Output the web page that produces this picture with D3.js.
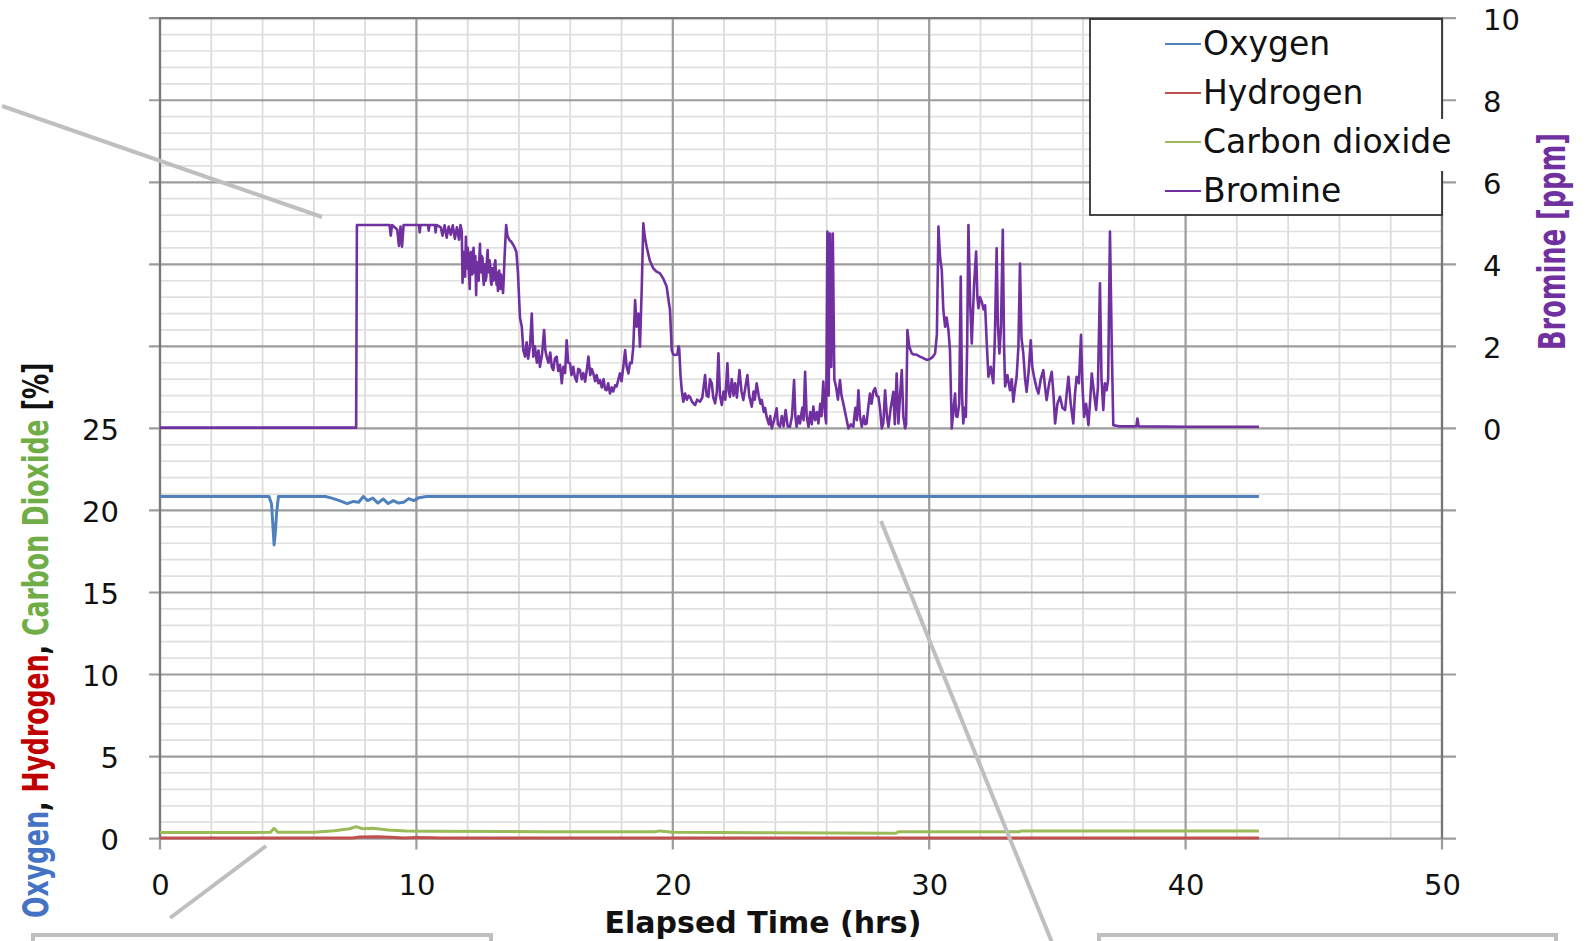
<!DOCTYPE html>
<html>
<head>
<meta charset="utf-8">
<script src="https://cdn.jsdelivr.net/npm/d3@7"></script>
<style>
  body { margin: 0; background: #fff; }
  text { font-family: "DejaVu Sans", sans-serif; white-space: pre; }
</style>
</head>
<body>
<div id="container"></div>
<script>
/* CONSTANTS AND GLOBALS */
const width = 1588, height = 941;
const plot = { left: 160, right: 1442, top: 18.2, bottom: 838.6 };

// tick labels
const hrsTicks = [0, 10, 20, 30, 40, 50];
const pctTicks = [0, 5, 10, 15, 20, 25];
const ppmTicks = [0, 2, 4, 6, 8, 10];

// legend / series
const seriesNames = ["Oxygen", "Hydrogen", "Carbon dioxide", "Bromine"];
const seriesColors = ["#4f81bd", "#c0504d", "#9bbb59", "#7030a0"];

// left axis title pieces
const leftTitleParts = [
  { text: "Oxygen", color: "#4472c4" },
  { text: ", ", color: "#111" },
  { text: "Hydrogen", color: "#c00000" },
  { text: ", ", color: "#111" },
  { text: "Carbon Dioxide", color: "#70ad47" },
  { text: " [%]", color: "#111" }
];

// [hours, %]
const oxygen = [
  [0, 20.85], [4.25, 20.85], [4.35, 20.4], [4.45, 17.9], [4.5, 18.7], [4.55, 19.9], [4.62, 20.85],
  [6.45, 20.85], [6.7, 20.75], [7.0, 20.6], [7.3, 20.42], [7.55, 20.55], [7.75, 20.5], [7.93, 20.85],
  [8.1, 20.6], [8.3, 20.75], [8.5, 20.45], [8.7, 20.7], [8.9, 20.42], [9.1, 20.6], [9.3, 20.45],
  [9.5, 20.5], [9.7, 20.72], [9.9, 20.6], [10.1, 20.78], [10.4, 20.85], [42.86, 20.85]
];

const hydrogen = [
  [0, 0.03], [7.5, 0.03], [7.8, 0.1], [8.5, 0.12], [9.0, 0.08], [9.5, 0.04], [10.0, 0.07],
  [10.6, 0.05], [11, 0.03], [42.86, 0.03]
];

const co2 = [
  [0, 0.37], [4.3, 0.38], [4.45, 0.63], [4.6, 0.38], [6.0, 0.38], [6.8, 0.48], [7.4, 0.6],
  [7.65, 0.73], [7.9, 0.6], [8.3, 0.63], [8.9, 0.52], [9.6, 0.47], [10.5, 0.45], [15, 0.42],
  [19.3, 0.42], [19.5, 0.47], [20.0, 0.38], [24, 0.35], [28.7, 0.33], [28.8, 0.41], [33.5, 0.42],
  [33.6, 0.47], [42.86, 0.47]
];

// [hours, ppm]
const bromine = [
  [0, 0.02], [7.65, 0.02], [7.68, 4.96], [8.95, 4.96], [9.0, 4.7], [9.05, 4.96], [9.25, 4.85], [9.32, 4.45],
  [9.38, 4.92], [9.44, 4.43], [9.5, 4.96], [10.1, 4.96], [10.13, 4.78], [10.16, 4.96], [10.45, 4.96],
  [10.48, 4.82], [10.51, 4.96], [10.72, 4.96], [10.75, 4.78], [10.78, 4.96], [10.95, 4.9], [11.02, 4.7],
  [11.1, 4.95], [11.18, 4.65], [11.26, 4.92], [11.34, 4.72], [11.42, 4.95], [11.5, 4.62], [11.58, 4.9],
  [11.66, 4.6], [11.72, 4.96], [11.77, 4.8],
  [11.8, 3.55], [11.82, 4.1], [11.84, 4.3], [11.86, 3.8], [11.88, 4.05], [11.9, 3.7], [11.93, 4.67],
  [11.96, 4.0], [11.98, 3.9], [12.0, 4.4], [12.03, 4.25], [12.05, 3.8], [12.08, 3.4], [12.1, 4.0],
  [12.13, 4.3], [12.15, 3.9], [12.18, 3.75], [12.2, 4.2], [12.23, 4.4], [12.25, 3.8], [12.28, 3.9],
  [12.3, 4.2], [12.33, 3.25], [12.35, 3.9], [12.38, 4.05], [12.4, 3.7], [12.43, 3.6], [12.45, 4.1],
  [12.48, 4.5], [12.5, 3.9], [12.53, 3.8], [12.55, 4.2], [12.58, 4.15], [12.6, 3.7], [12.63, 3.5],
  [12.65, 4.0], [12.68, 4.0], [12.7, 3.6], [12.73, 3.7], [12.75, 4.1], [12.78, 4.35], [12.8, 3.9],
  [12.83, 3.8], [12.85, 4.1], [12.88, 3.95], [12.9, 3.6], [12.93, 3.5], [12.95, 3.9], [12.98, 3.9],
  [13.0, 3.6], [13.03, 3.65], [13.05, 4.0], [13.08, 4.1], [13.1, 3.7], [13.13, 3.5], [13.15, 3.8],
  [13.18, 3.35], [13.2, 3.7], [13.23, 3.85], [13.25, 3.5], [13.28, 3.4], [13.3, 3.75], [13.33, 3.6],
  [13.36, 3.45], [13.38, 3.3], [13.41, 3.7], [13.44, 4.2], [13.5, 4.96],
  [13.55, 4.7], [13.62, 4.6], [13.7, 4.55], [13.8, 4.45], [13.9, 4.3], [13.96, 3.8], [14.04, 2.7],
  [14.11, 2.48], [14.17, 1.91], [14.24, 1.75], [14.3, 2.1], [14.36, 1.7], [14.43, 2.0], [14.5, 2.8],
  [14.56, 1.75], [14.62, 2.0], [14.7, 1.6], [14.76, 1.9], [14.82, 1.5], [14.9, 1.8], [14.98, 2.4],
  [15.03, 1.9], [15.08, 1.75], [15.15, 1.6], [15.22, 1.85], [15.28, 1.5], [15.34, 1.42], [15.4, 1.7],
  [15.47, 1.75], [15.53, 1.4], [15.6, 1.55], [15.67, 1.1], [15.73, 1.5], [15.8, 1.35], [15.86, 2.15],
  [15.92, 1.6], [15.99, 1.59], [16.05, 1.3], [16.12, 1.5], [16.18, 1.25], [16.25, 1.14], [16.31, 1.45],
  [16.38, 1.42], [16.45, 1.2], [16.51, 1.35], [16.58, 1.14], [16.64, 1.4], [16.71, 1.75], [16.78, 1.3],
  [16.84, 1.45], [16.9, 1.34], [16.97, 1.15], [17.03, 1.3], [17.1, 1.1], [17.16, 1.18], [17.23, 1.0],
  [17.3, 1.2], [17.36, 0.95], [17.42, 0.93], [17.48, 1.1], [17.55, 0.85], [17.62, 1.0], [17.68, 0.9],
  [17.75, 1.05], [17.81, 1.02], [17.88, 1.2], [17.94, 1.34], [18.0, 1.15], [18.07, 1.5], [18.14, 1.91],
  [18.2, 1.5], [18.27, 1.34], [18.33, 1.6], [18.4, 1.59], [18.46, 2.0], [18.53, 3.13], [18.59, 2.48],
  [18.66, 2.8], [18.72, 1.99], [18.79, 3.45], [18.85, 5.0], [18.9, 4.7], [18.98, 4.43], [19.1, 4.1],
  [19.24, 3.9], [19.37, 3.82], [19.5, 3.78], [19.63, 3.65], [19.76, 3.46], [19.84, 3.1], [19.89, 2.89],
  [19.96, 1.91], [20.02, 1.8], [20.09, 1.79], [20.18, 1.8], [20.22, 2.0], [20.25, 1.95], [20.3, 1.3],
  [20.35, 0.93], [20.41, 0.65], [20.48, 0.85], [20.55, 0.7], [20.62, 0.8], [20.67, 0.77], [20.75, 0.65],
  [20.87, 0.57], [20.95, 0.7], [21.06, 0.65], [21.15, 0.75], [21.2, 1.0], [21.26, 1.3], [21.32, 0.8],
  [21.39, 0.77], [21.45, 1.2], [21.52, 1.1], [21.58, 0.75], [21.65, 0.61], [21.72, 0.9], [21.78, 1.83],
  [21.84, 0.8], [21.91, 0.57], [21.98, 0.9], [22.05, 0.7], [22.13, 1.59], [22.18, 0.9], [22.23, 0.77],
  [22.3, 1.2], [22.37, 0.8], [22.43, 1.1], [22.5, 0.75], [22.6, 1.42], [22.68, 0.9], [22.75, 0.69],
  [22.83, 1.0], [22.91, 1.3], [22.98, 0.8], [23.08, 0.53], [23.15, 0.9], [23.2, 0.7], [23.27, 1.1],
  [23.35, 0.8], [23.42, 0.6], [23.47, 0.69], [23.55, 0.4], [23.6, 0.5], [23.66, 0.28], [23.75, 0.1],
  [23.8, 0.3], [23.86, 0.0], [23.95, 0.2], [24.05, 0.49], [24.1, 0.1], [24.18, 0.04], [24.25, 0.3],
  [24.32, 0.05], [24.4, 0.45], [24.48, 0.05], [24.57, 0.04], [24.65, 0.3], [24.73, 1.18], [24.78, 0.3],
  [24.83, 0.04], [24.9, 0.3], [24.96, 0.12], [25.05, 0.5], [25.1, 0.2], [25.16, 1.38], [25.22, 0.3],
  [25.29, 0.04], [25.36, 0.4], [25.42, 0.1], [25.48, 0.53], [25.55, 0.2], [25.62, 0.4], [25.68, 0.12],
  [25.75, 0.6], [25.8, 0.3], [25.87, 1.14], [25.93, 0.4], [25.98, 0.12], [26.03, 4.8], [26.08, 0.8],
  [26.13, 4.75], [26.18, 1.5], [26.24, 4.75], [26.3, 1.2], [26.37, 1.0], [26.44, 0.7], [26.52, 1.18],
  [26.58, 0.8], [26.65, 0.61], [26.75, 0.3], [26.85, 0.0], [26.95, 0.1], [27.04, 0.04], [27.12, 0.5],
  [27.18, 0.2], [27.24, 0.93], [27.3, 0.3], [27.37, 0.04], [27.45, 0.3], [27.5, 0.1], [27.56, 0.12],
  [27.62, 0.5], [27.69, 0.85], [27.75, 0.6], [27.82, 0.9], [27.89, 0.98], [27.95, 0.8], [28.02, 0.77],
  [28.08, 0.5], [28.15, 0.0], [28.21, 0.12], [28.28, 0.93], [28.35, 0.3], [28.41, 0.04], [28.5, 0.5],
  [28.6, 0.89], [28.66, 0.1], [28.73, 1.34], [28.8, 0.12], [28.86, 0.77], [28.93, 1.42], [28.99, 0.3],
  [29.06, 0.0], [29.1, 0.1], [29.15, 2.4], [29.22, 2.0], [29.32, 1.83], [29.4, 1.8], [29.5, 1.8],
  [29.64, 1.75], [29.75, 1.72], [29.9, 1.67], [30.05, 1.7], [30.15, 1.75], [30.23, 1.83], [30.3, 2.3],
  [30.36, 4.92], [30.42, 4.2], [30.49, 3.86], [30.55, 2.9], [30.62, 2.48], [30.68, 2.7], [30.75, 2.4],
  [30.81, 1.91], [30.85, 0.8], [30.88, 0.0], [30.95, 0.5], [31.01, 0.85], [31.05, 0.3], [31.1, 0.28],
  [31.17, 0.6], [31.23, 3.7], [31.28, 0.8], [31.33, 0.12], [31.38, 0.5], [31.43, 0.28], [31.48, 2.0],
  [31.53, 4.96], [31.6, 3.0], [31.66, 2.07], [31.75, 3.5], [31.83, 4.31], [31.88, 3.2], [31.92, 2.93],
  [31.98, 3.2], [32.05, 3.09], [32.12, 2.9], [32.18, 3.0], [32.25, 2.0], [32.31, 1.26], [32.4, 1.5],
  [32.5, 1.1], [32.56, 2.2], [32.63, 4.39], [32.68, 2.5], [32.74, 1.83], [32.8, 2.5], [32.87, 4.84],
  [32.92, 2.0], [32.96, 1.02], [33.05, 1.3], [33.15, 0.93], [33.22, 1.2], [33.28, 0.65], [33.35, 1.0],
  [33.41, 1.26], [33.48, 2.0], [33.54, 4.02], [33.6, 2.2], [33.67, 1.83], [33.74, 1.2], [33.8, 0.89],
  [33.88, 1.4], [33.96, 2.15], [34.02, 1.5], [34.09, 1.26], [34.18, 1.0], [34.26, 0.85], [34.35, 1.2],
  [34.45, 1.42], [34.52, 1.0], [34.58, 0.69], [34.68, 1.1], [34.78, 1.38], [34.85, 0.8], [34.91, 0.12],
  [35.0, 0.6], [35.1, 0.77], [35.2, 0.5], [35.3, 0.45], [35.37, 0.9], [35.43, 1.26], [35.52, 0.6],
  [35.62, 0.12], [35.68, 0.8], [35.75, 1.26], [35.84, 1.1], [35.92, 2.28], [35.98, 1.0], [36.04, 0.28],
  [36.12, 0.6], [36.21, 0.08], [36.28, 0.7], [36.34, 1.34], [36.42, 0.9], [36.51, 0.45], [36.58, 1.0],
  [36.66, 3.54], [36.72, 1.2], [36.79, 0.45], [36.85, 1.1], [36.92, 0.93], [36.98, 1.2], [37.05, 4.8],
  [37.12, 2.0], [37.18, 0.08], [37.4, 0.05], [38.08, 0.05], [38.12, 0.24], [38.17, 0.05], [40.0, 0.04],
  [42.86, 0.04]
];

// grey callout shapes from the surrounding figure (pixel layout)
const calloutLines = [
  [[2, 106], [322, 217]],
  [[266, 846], [170, 918]],
  [[881, 521], [1053, 945]]
];
const calloutBoxes = [
  { x: 33, y: 935, w: 458, h: 30 },
  { x: 1099, y: 935, w: 457, h: 30 }
];

// Create SVG canvas
const svg = d3.select("#container")
  .append("svg")
  .attr("width", width)
  .attr("height", height);

// scales
const xScale = d3.scaleLinear().domain([0, 50]).range([plot.left, plot.right]);
const yPct = d3.scaleLinear().domain([0, 50]).range([plot.bottom, plot.top]);
const yPpm = d3.scaleLinear().domain([0, 10]).range([yPct(25), plot.top]);

// minor grid
const grid = svg.append("g");
grid.selectAll(".vminor")
  .data(xScale.ticks(25).filter(d => d % 10 !== 0))
  .join("line")
  .attr("x1", d => xScale(d)).attr("x2", d => xScale(d))
  .attr("y1", plot.top).attr("y2", plot.bottom)
  .attr("stroke", "#dadada").attr("stroke-width", 1.7);
grid.selectAll(".hminor")
  .data(yPct.ticks(50).filter(d => d % 5 !== 0))
  .join("line")
  .attr("x1", plot.left).attr("x2", plot.right)
  .attr("y1", d => yPct(d)).attr("y2", d => yPct(d))
  .attr("stroke", "#e0e0e0").attr("stroke-width", 1.7);

// major grid (extends outside as tick marks)
grid.selectAll(".hmajor")
  .data(yPct.ticks(10))
  .join("line")
  .attr("x1", plot.left - 11).attr("x2", plot.right + 14)
  .attr("y1", d => yPct(d)).attr("y2", d => yPct(d))
  .attr("stroke", "#9c9c9c").attr("stroke-width", 2.2);
grid.selectAll(".vmajor")
  .data(hrsTicks)
  .join("line")
  .attr("x1", d => xScale(d)).attr("x2", d => xScale(d))
  .attr("y1", plot.top).attr("y2", plot.bottom + 11)
  .attr("stroke", "#9c9c9c").attr("stroke-width", 2.2);

// plot frame
svg.append("path")
  .attr("d", `M${plot.left},${plot.bottom}V${plot.top}H${plot.right}V${plot.bottom}`)
  .attr("fill", "none").attr("stroke", "#777").attr("stroke-width", 2.2);

// series
const lineGen = y => d3.line().x(d => xScale(d[0])).y(d => y(d[1]));
const seriesData = [oxygen, hydrogen, co2, bromine];
[1, 2, 0].forEach(i => {
  svg.append("path").datum(seriesData[i])
    .attr("fill", "none").attr("stroke", seriesColors[i])
    .attr("stroke-width", 3).attr("stroke-linejoin", "round")
    .attr("d", lineGen(yPct));
});
svg.append("path").datum(bromine)
  .attr("fill", "none").attr("stroke", seriesColors[3])
  .attr("stroke-width", 2.6).attr("stroke-linejoin", "round")
  .attr("d", lineGen(yPpm));

// axes
const styleAxis = g => {
  g.select(".domain").remove();
  g.selectAll("text").attr("font-size", 29).attr("fill", "#111")
    .attr("font-family", "DejaVu Sans, sans-serif");
};
svg.append("g")
  .attr("transform", `translate(${plot.left},0)`)
  .call(d3.axisLeft(yPct).tickValues(pctTicks).tickSize(0).tickPadding(41).tickFormat(d3.format("d")))
  .call(styleAxis)
  .selectAll("text").attr("dy", "0.38em");
svg.append("g")
  .attr("transform", `translate(${plot.right},0)`)
  .call(d3.axisRight(yPpm).tickValues(ppmTicks).tickSize(0).tickPadding(41).tickFormat(d3.format("d")))
  .call(styleAxis)
  .selectAll("text").attr("dy", "0.38em");
svg.append("g")
  .attr("transform", `translate(0,${plot.bottom})`)
  .call(d3.axisBottom(xScale).tickValues(hrsTicks).tickSize(0).tickPadding(36).tickFormat(d3.format("d")))
  .call(styleAxis);

// axis titles
svg.append("text")
  .attr("x", 763).attr("y", 933)
  .attr("text-anchor", "middle")
  .attr("font-size", 30).attr("font-weight", "bold").attr("fill", "#111")
  .text("Elapsed Time (hrs)");

const leftTitle = svg.append("text")
  .attr("font-size", 36).attr("font-weight", "bold");
leftTitle.selectAll("tspan")
  .data(leftTitleParts)
  .join("tspan")
  .attr("fill", d => d.color)
  .text(d => d.text);
const leftLen = leftTitle.node().getComputedTextLength();
leftTitle.attr("transform", `translate(48,918) rotate(-90) scale(${556 / leftLen},1)`);

const rightTitle = svg.append("text")
  .attr("font-size", 37).attr("font-weight", "bold").attr("fill", "#7030a0")
  .text("Bromine [ppm]");
const rightLen = rightTitle.node().getComputedTextLength();
rightTitle.attr("transform", `translate(1565,350) rotate(-90) scale(${217 / rightLen},1)`);

// legend
const legend = svg.append("g");
legend.append("rect")
  .attr("x", 1090).attr("y", 19).attr("width", 352).attr("height", 196)
  .attr("fill", "#fff").attr("stroke", "#333").attr("stroke-width", 1.8);
const legendRow = i => 55 + i * 49;
legend.append("rect")
  .attr("x", 1200).attr("y", legendRow(2) - 34).attr("width", 256).attr("height", 52)
  .attr("fill", "#fff");
legend.selectAll(".swatch")
  .data(seriesNames)
  .join("line")
  .attr("x1", 1165).attr("x2", 1201)
  .attr("y1", (d, i) => legendRow(i) - 11).attr("y2", (d, i) => legendRow(i) - 11)
  .attr("stroke", (d, i) => seriesColors[i]).attr("stroke-width", 2.2);
legend.selectAll(".label")
  .data(seriesNames)
  .join("text")
  .attr("x", 1203).attr("y", (d, i) => legendRow(i))
  .attr("font-size", 33).attr("fill", "#111")
  .text(d => d);

// callouts
svg.selectAll(".callout")
  .data(calloutLines)
  .join("line")
  .attr("x1", d => d[0][0]).attr("y1", d => d[0][1])
  .attr("x2", d => d[1][0]).attr("y2", d => d[1][1])
  .attr("stroke", "#bfbfbf").attr("stroke-width", 4);
svg.selectAll(".calloutBox")
  .data(calloutBoxes)
  .join("rect")
  .attr("x", d => d.x).attr("y", d => d.y)
  .attr("width", d => d.w).attr("height", d => d.h)
  .attr("fill", "none").attr("stroke", "#bfbfbf").attr("stroke-width", 4);
</script>
</body>
</html>
